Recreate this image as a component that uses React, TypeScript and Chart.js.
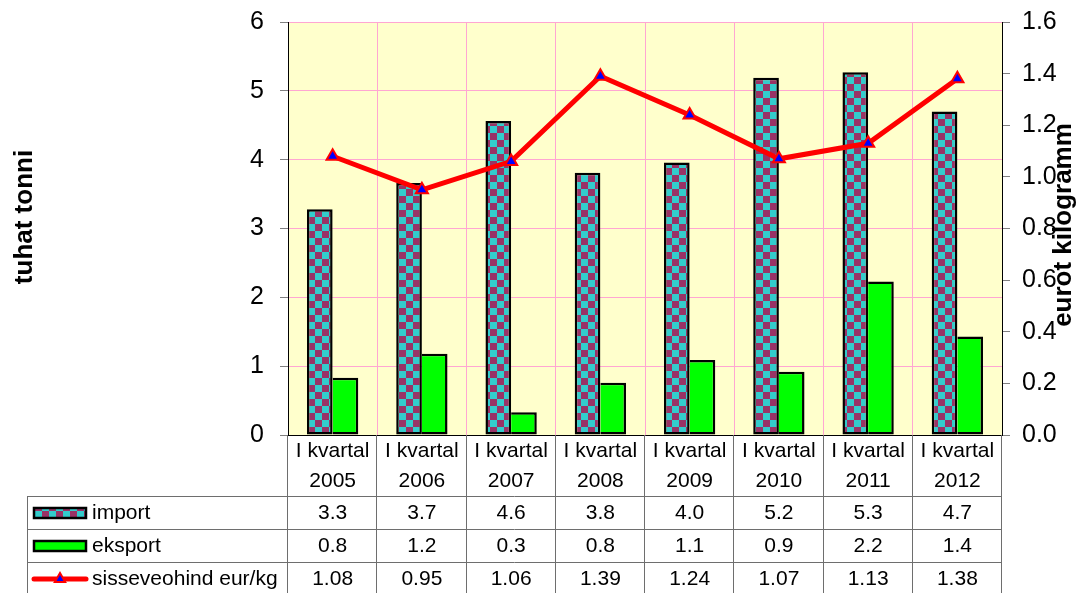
import React, { useEffect, useRef } from 'react';
import { Chart, registerables } from 'chart.js';

Chart.register(...registerables);

const categories = ['2005', '2006', '2007', '2008', '2009', '2010', '2011', '2012'];
const quarterLabel = 'I kvartal';
const importValues = [3.28, 3.66, 4.56, 3.81, 3.96, 5.19, 5.27, 4.7];
const eksportValues = [0.83, 1.18, 0.33, 0.76, 1.09, 0.92, 2.23, 1.43];
const priceValues = [1.08, 0.95, 1.06, 1.39, 1.24, 1.07, 1.13, 1.38];
const seriesNames = ['import', 'eksport', 'sisseveohind eur/kg'];
const leftTitle = 'tuhat tonni';
const rightTitle = 'eurot kilogramm';

const FONT = '"Liberation Sans", Arial, sans-serif';
const TEAL = '#33CCCC';
const PLUM = '#993366';
const GREEN = '#00FF00';
const RED = '#FF0000';
const BLUE = '#0000FF';
const PINK = '#FFA6D2';
const TABLE_LINE = '#6E6E6E';

function makePattern(): CanvasPattern | string {
  const c = document.createElement('canvas');
  const s = 7;
  c.width = s * 2;
  c.height = s * 2;
  const g = c.getContext('2d');
  if (!g) return TEAL;
  g.fillStyle = TEAL;
  g.fillRect(0, 0, s * 2, s * 2);
  g.fillStyle = PLUM;
  g.fillRect(s, 0, s, s);
  g.fillRect(0, s, s, s);
  const p = g.createPattern(c, 'repeat');
  return p || TEAL;
}

export default function App() {
  const ref = useRef<HTMLCanvasElement | null>(null);

  useEffect(() => {
    if (!ref.current) return;
    const pattern = makePattern();

    const tablePlugin = {
      id: 'tablePlugin',
      beforeDraw(chart: any) {
        const { ctx, chartArea: a } = chart;
        ctx.save();
        ctx.fillStyle = '#FFFFCC';
        ctx.fillRect(a.left, a.top, a.right - a.left, a.bottom - a.top);
        ctx.restore();
      },
      afterDraw(chart: any) {
        const { ctx, chartArea: a } = chart;
        const xs = chart.scales.x;
        const n = categories.length;
        const colW = (xs.right - xs.left) / n;
        const H = chart.height;
        const headerBottom = a.bottom + 61;
        const rowH = 33;
        const legendLeft = 27;
        ctx.save();
        // table lines
        ctx.strokeStyle = TABLE_LINE;
        ctx.lineWidth = 1;
        ctx.beginPath();
        for (let i = 0; i <= n; i++) {
          const xx = Math.round(xs.left + i * colW) - 0.5;
          ctx.moveTo(xx, a.bottom);
          ctx.lineTo(xx, H);
        }
        ctx.moveTo(legendLeft + 0.5, headerBottom);
        ctx.lineTo(legendLeft + 0.5, H);
        for (let r = 0; r < 3; r++) {
          const yy = Math.round(headerBottom + r * rowH) + 0.5;
          ctx.moveTo(legendLeft, yy);
          ctx.lineTo(xs.right, yy);
        }
        ctx.stroke();

        const rows = [importValues, eksportValues, priceValues];
        const decimals = [1, 1, 2];
        ctx.font = `21px ${FONT}`;
        ctx.fillStyle = '#000';
        ctx.textBaseline = 'middle';
        for (let r = 0; r < 3; r++) {
          const cy = headerBottom + r * rowH + rowH / 2 + 0.5;
          ctx.textAlign = 'center';
          ctx.fillStyle = '#000';
          for (let i = 0; i < n; i++) {
            const cx = xs.getPixelForValue(i);
            ctx.fillText(rows[r][i].toFixed(decimals[r]), cx, cy);
          }
          ctx.textAlign = 'left';
          ctx.fillText(seriesNames[r], 92, cy);
        }

        // legend keys
        const keyX = 34;
        const keyW = 52;
        const keyH = 10;
        const c0 = headerBottom + rowH / 2 + 0.5;
        ctx.fillStyle = pattern as any;
        ctx.fillRect(keyX, c0 - keyH / 2, keyW, keyH);
        ctx.strokeStyle = '#000';
        ctx.lineWidth = 2.5;
        ctx.strokeRect(keyX, c0 - keyH / 2, keyW, keyH);
        const c1 = c0 + rowH;
        ctx.fillStyle = GREEN;
        ctx.fillRect(keyX, c1 - keyH / 2, keyW, keyH);
        ctx.strokeRect(keyX, c1 - keyH / 2, keyW, keyH);
        const c2 = c1 + rowH;
        ctx.strokeStyle = RED;
        ctx.lineWidth = 5;
        ctx.lineCap = 'round';
        ctx.beginPath();
        ctx.moveTo(keyX, c2);
        ctx.lineTo(keyX + keyW, c2);
        ctx.stroke();
        const tx = keyX + keyW / 2;
        const r = 6;
        const edge = (3 * r) / Math.sqrt(3);
        const hgt = (edge * Math.sqrt(3)) / 2;
        ctx.beginPath();
        ctx.moveTo(tx - edge / 2, c2 + hgt / 3);
        ctx.lineTo(tx + edge / 2, c2 + hgt / 3);
        ctx.lineTo(tx, c2 - (2 * hgt) / 3);
        ctx.closePath();
        ctx.fillStyle = BLUE;
        ctx.fill();
        ctx.lineWidth = 2;
        ctx.lineCap = 'butt';
        ctx.stroke();

        // axis titles
        ctx.fillStyle = '#000';
        ctx.font = `bold 26px ${FONT}`;
        ctx.textAlign = 'center';
        ctx.textBaseline = 'middle';
        ctx.save();
        ctx.translate(25, 217);
        ctx.rotate(-Math.PI / 2);
        ctx.fillText(leftTitle, 0, 0);
        ctx.restore();
        ctx.save();
        ctx.translate(1064, 225);
        ctx.rotate(-Math.PI / 2);
        ctx.fillText(rightTitle, 0, 0);
        ctx.restore();
        ctx.restore();
      },
    };

    const chart = new Chart(ref.current, {
      data: {
        labels: categories.map((c) => [quarterLabel, c]),
        datasets: [
          {
            type: 'line',
            label: seriesNames[2],
            data: priceValues,
            yAxisID: 'y1',
            order: 0,
            borderColor: RED,
            borderWidth: 5,
            pointStyle: 'triangle',
            pointRadius: 7,
            pointBackgroundColor: BLUE,
            pointBorderColor: RED,
            pointBorderWidth: 2,
            tension: 0,
          },
          {
            type: 'bar',
            label: seriesNames[0],
            data: importValues,
            yAxisID: 'y',
            order: 1,
            backgroundColor: pattern as any,
            borderColor: '#000',
            borderWidth: 2.5,
            borderSkipped: false,
            categoryPercentage: 0.575,
            barPercentage: 1,
          },
          {
            type: 'bar',
            label: seriesNames[1],
            data: eksportValues,
            yAxisID: 'y',
            order: 1,
            backgroundColor: GREEN,
            borderColor: '#000',
            borderWidth: { top: 2.5, right: 2.5, bottom: 2.5, left: 0 },
            borderSkipped: false,
            categoryPercentage: 0.575,
            barPercentage: 1,
          },
        ],
      } as any,
      options: {
        animation: false,
        responsive: false,
        layout: { padding: { top: 22, left: 0, right: 0, bottom: 0 } },
        plugins: {
          legend: { display: false },
          tooltip: { enabled: false },
          title: { display: false },
        },
        scales: {
          x: {
            type: 'category',
            offset: true,
            grid: {
              display: true,
              offset: true,
              color: (c: any) => (c.index === 0 ? 'rgba(0,0,0,0)' : PINK),
              drawTicks: false,
            },
            border: { display: true, color: '#000', width: 1 },
            ticks: {
              padding: 2,
              color: '#000',
              maxRotation: 0,
              autoSkip: false,
              font: { family: FONT, size: 21, lineHeight: 1.4 },
            },
            afterFit: (s: any) => {
              s.height = 158;
              s.paddingLeft = 0;
              s.paddingRight = 0;
            },
          },
          y: {
            position: 'left',
            min: 0,
            max: 6,
            ticks: {
              stepSize: 1,
              color: '#000',
              padding: 16,
              font: { family: FONT, size: 25 },
            },
            grid: {
              color: PINK,
              tickColor: '#808080',
              tickLength: 8,
            },
            border: { display: true, color: '#000', width: 1 },
            afterFit: (s: any) => {
              s.width = 288;
              s.paddingTop = 0;
              s.paddingBottom = 0;
            },
          },
          y1: {
            position: 'right',
            min: 0,
            max: 1.6,
            ticks: {
              stepSize: 0.2,
              color: '#000',
              padding: 12,
              font: { family: FONT, size: 25 },
              callback: (v: any) => Number(v).toFixed(1),
            },
            grid: {
              drawOnChartArea: false,
              tickColor: '#808080',
              tickLength: 8,
            },
            border: { display: true, color: '#000', width: 1 },
            afterFit: (s: any) => {
              s.width = 79;
              s.paddingTop = 0;
              s.paddingBottom = 0;
            },
          },
        },
      } as any,
      plugins: [tablePlugin],
    });
    return () => chart.destroy();
  }, []);

  return (
    <div style={{ position: 'fixed', left: 0, top: 0, width: 1081, height: 593, background: '#fff' }}>
      <canvas ref={ref} width={1081} height={593} style={{ display: 'block' }} />
    </div>
  );
}
